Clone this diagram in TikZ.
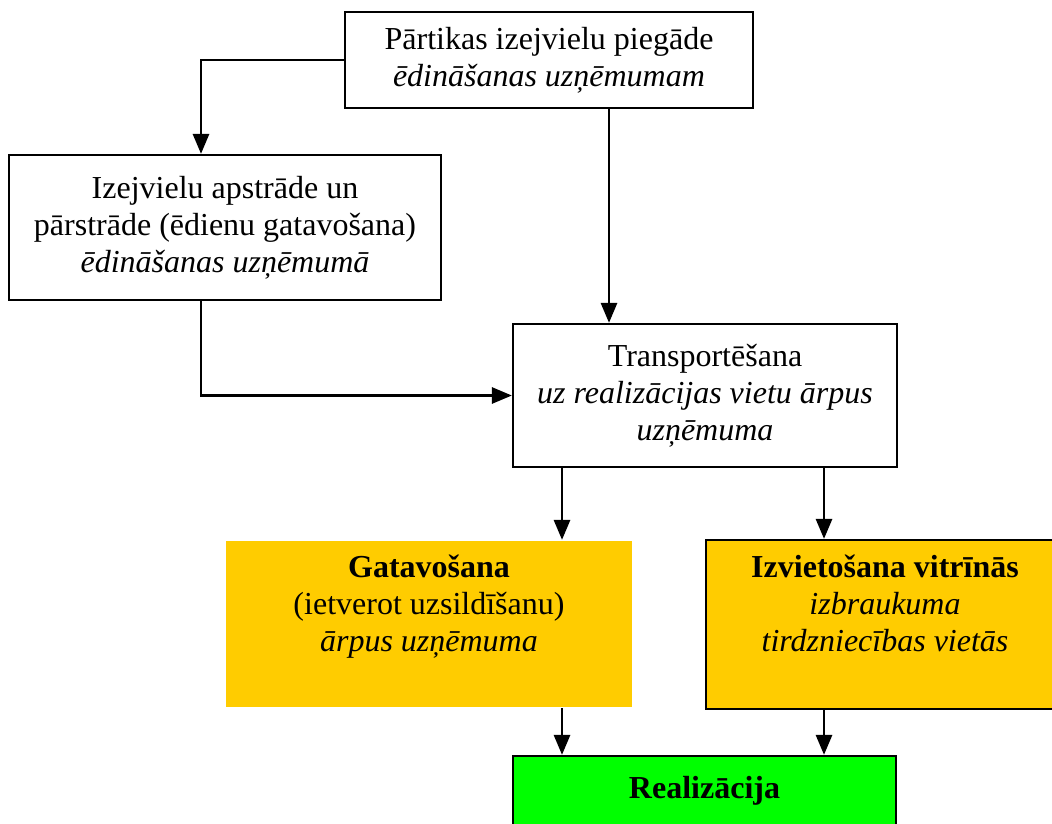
\documentclass[tikz,border=0pt]{standalone}
\usepackage{fontspec}
\setmainfont{Liberation Serif}
\usepackage{xcolor}
\usetikzlibrary{arrows}
\definecolor{orangebox}{HTML}{FFCC00}
\definecolor{greenbox}{HTML}{00FF00}

\begin{document}
\begin{tikzpicture}[x=0.5pt,y=-0.5pt,
    every node/.style={font=\fontsize{16}{18.5}\selectfont,align=center},
    box/.style={draw,line width=1.3pt,inner sep=0pt}]
\useasboundingbox (0,0) rectangle (1052,823);
\clip (0,0) rectangle (1052,823);
\begin{scope}[>=triangle 45,line width=1.3pt]

    \node[box,minimum width=204pt,minimum height=48pt] (supply) at (549,60)
        {Pārtikas izejvielu piegāde\\\textit{ēdināšanas uzņēmumam}};
    \node[box,minimum width=216pt,minimum height=72.5pt] (process) at (225,227.5)
        {Izejvielu apstrāde un\\pārstrāde (ēdienu gatavošana)\\\textit{ēdināšanas uzņēmumā}};
    \node[box,minimum width=192pt,minimum height=71.5pt] (transport) at (705,395.5)
        {Transportēšana\\\textit{uz realizācijas vietu ārpus}\\\textit{uzņēmuma}};

    \node[inner sep=0pt,fill=orangebox,minimum width=203pt,minimum height=83pt] (cook) at (429,624)
        {\textbf{Gatavošana}\\(ietverot uzsildīšanu)\\\textit{ārpus uzņēmuma}\\[-3pt]\strut};
    \node[box,fill=orangebox,minimum width=179pt,minimum height=84.5pt] (display) at (885,624.5)
        {\textbf{Izvietošana vitrīnās}\\\textit{izbraukuma}\\\textit{tirdzniecības vietās}\\[-3pt]\strut};
    \node[box,fill=greenbox,minimum width=191.5pt,minimum height=50.5pt] (sale) at (704.5,806.5)
        {\textbf{Realizācija}\\[-5pt]\strut};

    \coordinate (xl) at (562,0);
    \coordinate (xr) at (824,0);

    \draw[->] (supply.west) -| ([xshift=-12pt]process.north);
    \draw[->] ([xshift=30pt]supply.south) -- ([xshift=30pt]supply.south |- transport.north);
    \draw[->] ([xshift=-12pt]process.south) |- (transport.west);
    \draw[->] (transport.south -| xl) -- (cook.north -| xl);
    \draw[->] (transport.south -| xr) -- (display.north -| xr);
    \draw[->] (cook.south -| xl) -- (sale.north -| xl);
    \draw[->] (display.south -| xr) -- (sale.north -| xr);
\end{scope}
\end{tikzpicture}
\end{document}
